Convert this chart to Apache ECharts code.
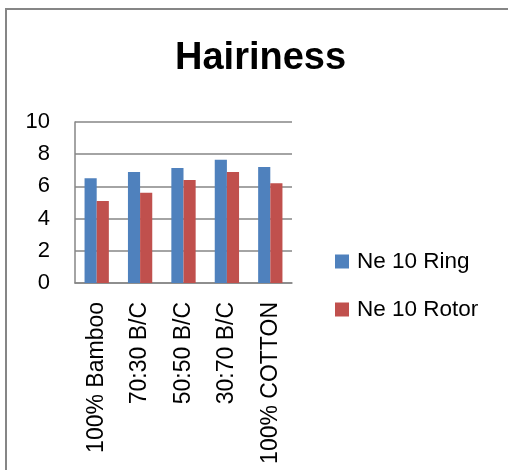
<!DOCTYPE html>
<html>
<head>
<meta charset="utf-8">
<script src="https://cdn.jsdelivr.net/npm/echarts@6/dist/echarts.min.js"></script>
<style>html,body{margin:0;padding:0;background:#fff}#c{width:508px;height:470px}</style>
</head>
<body>
<div id="c"></div>
<script>
var categories = ['100% Bamboo', '70:30 B/C', '50:50 B/C', '30:70 B/C', '100% COTTON'];
var ringValues = [6.5, 6.9, 7.15, 7.65, 7.2];
var rotorValues = [5.1, 5.6, 6.4, 6.9, 6.2];
var seriesNames = ['Ne 10 Ring', 'Ne 10 Rotor'];
var yTicks = [0, 2, 4, 6, 8, 10];

var font = '"Liberation Sans", Arial, sans-serif';
var chart = echarts.init(document.getElementById('c'));
chart.setOption({
  animation: false,
  backgroundColor: '#fff',
  graphic: [{
    type: 'rect', shape: {x: 6, y: 9, width: 700, height: 700},
    style: {fill: 'none', stroke: '#868686', lineWidth: 2}, silent: true
  }],
  title: {
    text: 'Hairiness', left: 175, top: 40, padding: 0,
    textStyle: {fontFamily: font, fontWeight: 'bold', fontSize: 38, color: '#000'}
  },
  legend: {
    orient: 'vertical', left: 335, top: 250, padding: 0,
    itemWidth: 14, itemHeight: 14, itemGap: 25,
    icon: 'rect',
    textStyle: {fontFamily: font, fontSize: 22.5, color: '#000', padding: [0, 0, 0, 3]},
    data: seriesNames
  },
  grid: {left: 75, right: 216, top: 122, bottom: 187, containLabel: false},
  xAxis: {
    type: 'category', data: categories,
    axisLine: {show: true, lineStyle: {color: '#868686', width: 1.5}},
    axisTick: {show: false},
    axisLabel: {rotate: 90, margin: 19, fontFamily: font, fontSize: 23, color: '#000', interval: 0}
  },
  yAxis: {
    type: 'value', min: yTicks[0], max: yTicks[yTicks.length - 1], interval: 2,
    axisLine: {show: true, lineStyle: {color: '#868686', width: 1.5}},
    axisTick: {show: false},
    splitLine: {lineStyle: {color: '#868686', width: 1.5}},
    axisLabel: {margin: 25, fontFamily: font, fontSize: 22, color: '#000'}
  },
  series: [
    {name: seriesNames[0], type: 'bar', data: ringValues, barGap: '0%', barCategoryGap: '44%',
     itemStyle: {color: '#4F81BD'}},
    {name: seriesNames[1], type: 'bar', data: rotorValues, barGap: '0%', barCategoryGap: '44%',
     itemStyle: {color: '#C0504D'}}
  ]
});
</script>
</body>
</html>
